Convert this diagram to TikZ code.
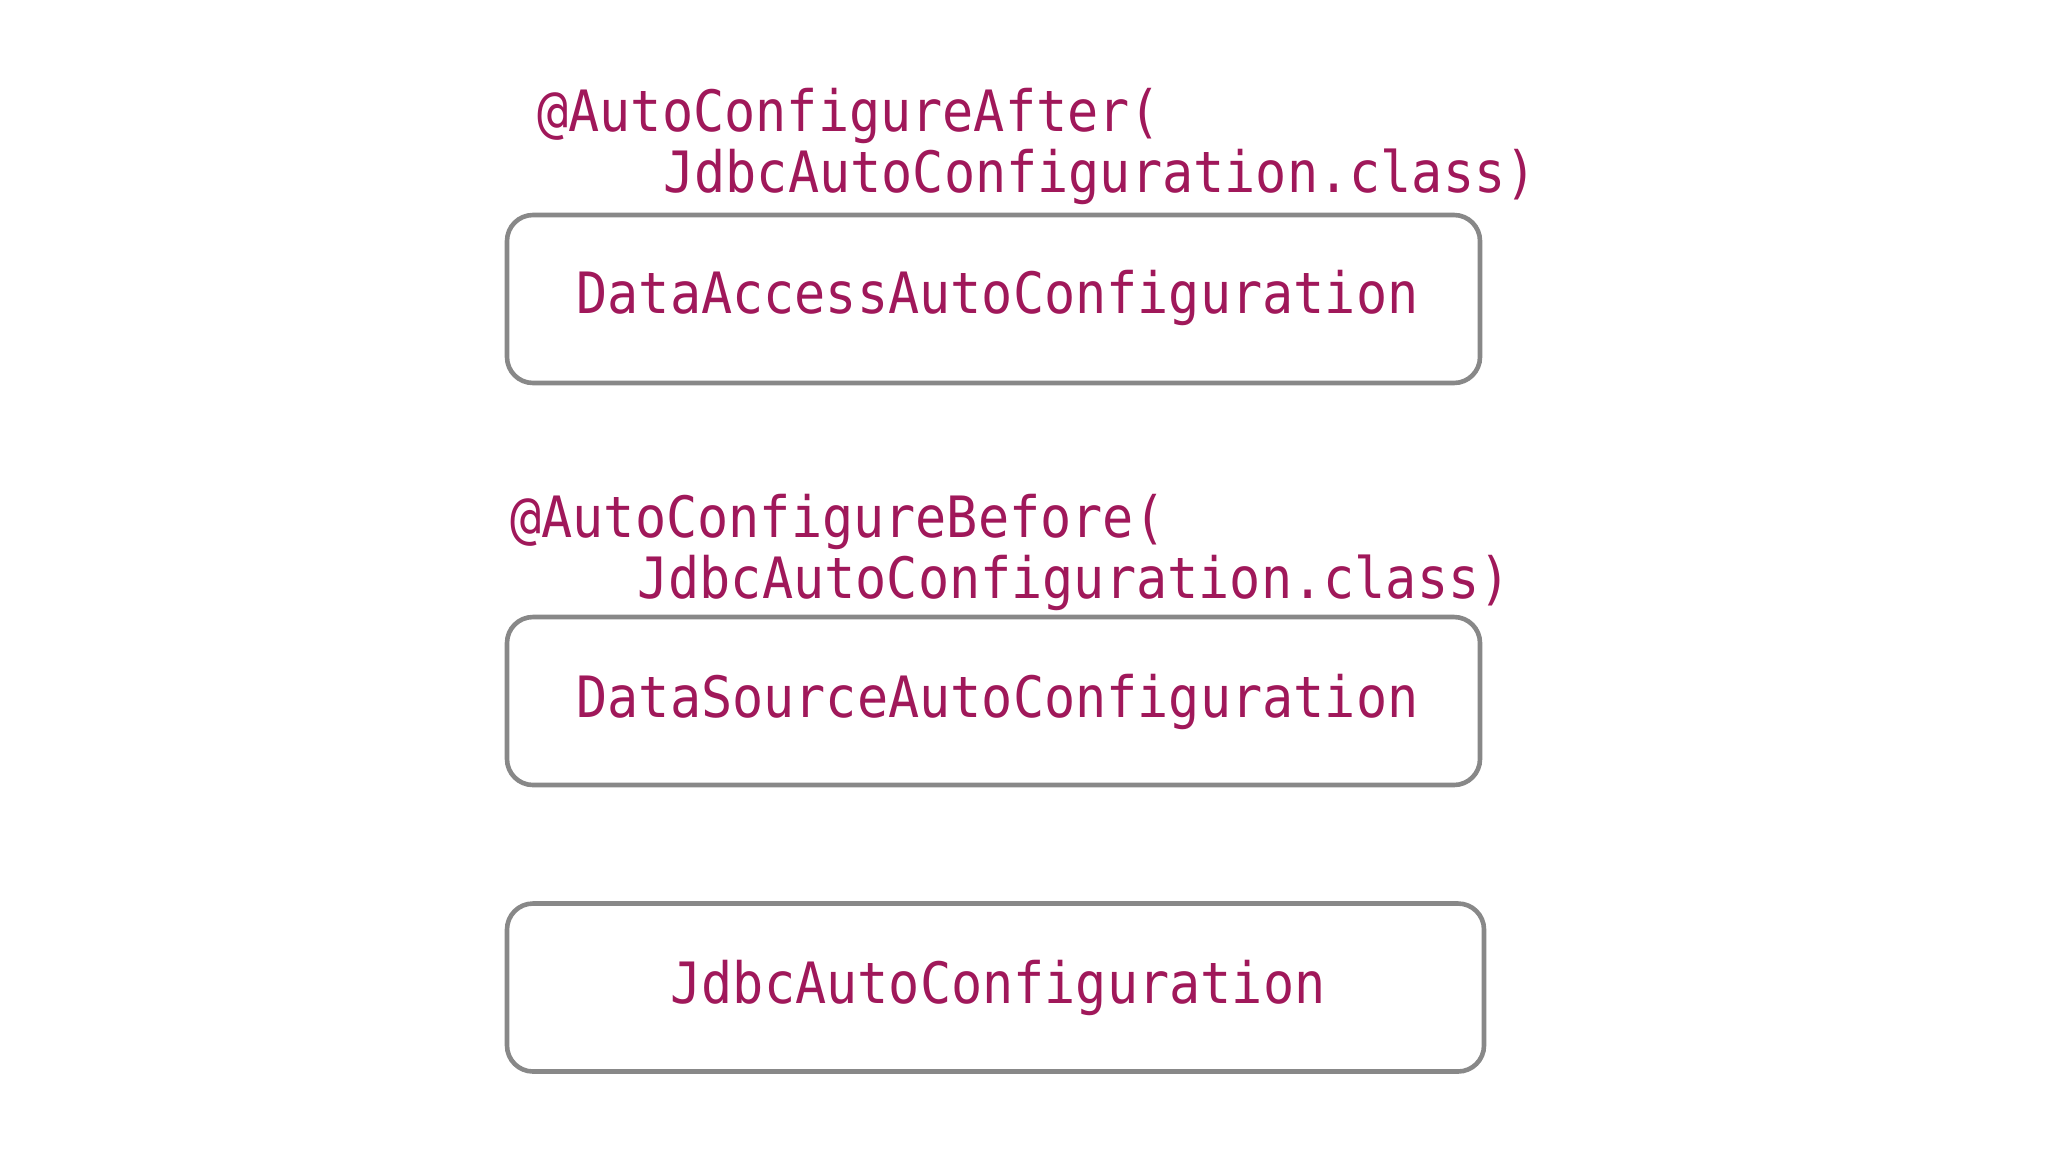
\documentclass[tikz,border=0pt]{standalone}
\usepackage{fontspec}
\setmonofont{DejaVu Sans Mono}
\definecolor{codecol}{HTML}{A0185A}
\definecolor{boxgray}{HTML}{888888}
\newcommand{\tallcode}[1]{\scalebox{1}[1.1]{#1}}
\begin{document}
\begin{tikzpicture}[x=0.5pt,y=-0.5pt,
  codetext/.style={text=codecol,font=\ttfamily\fontsize{25.9}{30}\selectfont,inner sep=0pt},
  classbox/.style={draw=boxgray,line width=2.3pt,rounded corners=13pt,fill=white,
    minimum height=84pt,inner sep=0pt,text=codecol,font=\ttfamily\fontsize{25.9}{30}\selectfont}]
\useasboundingbox[fill=white] (0,0) rectangle (2048,1152);
% boxes
\node[classbox,minimum width=486.5pt] (access) at (993.5,299) {};
\node[codetext] (accesslabel) at (997.5,298) {\tallcode{DataAccessAutoConfiguration}};
\node[classbox,minimum width=486.5pt] (source) at (993.5,701) {};
\node[codetext] (sourcelabel) at (997.5,702) {\tallcode{DataSourceAutoConfiguration}};
\node[classbox,minimum width=488.5pt] (jdbc) at (995.5,987.5) {};
\node[codetext] (jdbclabel) at (998,988) {\tallcode{JdbcAutoConfiguration}};
% annotations
\node[codetext,anchor=base west] (after1) at (537,131) {\tallcode{@AutoConfigureAfter(}};
\node[codetext,anchor=base west] (after2) at (663,192) {\tallcode{JdbcAutoConfiguration.class)}};
\node[codetext,anchor=base west] (before1) at (510,537) {\tallcode{@AutoConfigureBefore(}};
\node[codetext,anchor=base west] (before2) at (637,598) {\tallcode{JdbcAutoConfiguration.class)}};
\end{tikzpicture}
\end{document}
